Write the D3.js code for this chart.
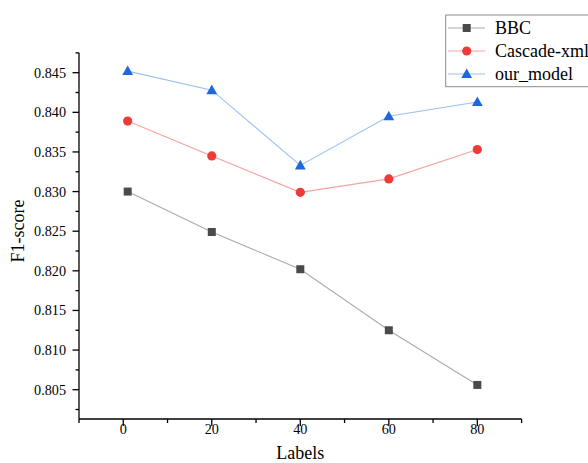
<!DOCTYPE html>
<html><head><meta charset="utf-8">
<script src="https://cdn.jsdelivr.net/npm/d3@7"></script>
<style>html,body{margin:0;padding:0;background:#fff;overflow:hidden} text{font-family:'Liberation Serif','Times New Roman',serif}</style>
</head><body>
<svg id="chart" width="588" height="463"></svg>
<script>
const labels = [1, 20, 40, 60, 80];
const bbc = [0.8300, 0.8249, 0.8202, 0.8125, 0.8056];
const cascade = [0.8389, 0.8345, 0.8299, 0.8316, 0.8353];
const ourModel = [0.8452, 0.8428, 0.8333, 0.8395, 0.8413];
const seriesNames = ["BBC", "Cascade-xml", "our_model"];
const xTicks = [0, 20, 40, 60, 80];
const yTicks = [0.805, 0.810, 0.815, 0.820, 0.825, 0.830, 0.835, 0.840, 0.845];

const svg = d3.select("#chart");
const font = "'Liberation Serif','Times New Roman',serif";
const x = d3.scaleLinear().domain([-10, 90]).range([79, 521.6]);
const y = d3.scaleLinear().domain([0.805, 0.845]).range([389.7, 72.7]);
const yTop = 52.7, yBot = 419;

const series = [
  {name: seriesNames[0], values: bbc, line: "#ababab", fill: "#4a4a4a", shape: "square"},
  {name: seriesNames[1], values: cascade, line: "#f7a3a3", fill: "#ef3a3a", shape: "circle"},
  {name: seriesNames[2], values: ourModel, line: "#9dc0f0", fill: "#1d68dc", shape: "triangle"}
];

function marker(g, shape, fill) {
  if (shape === "square") {
    g.append("rect").attr("x", -4).attr("y", -4).attr("width", 8).attr("height", 8).attr("fill", fill);
  } else if (shape === "circle") {
    g.append("circle").attr("r", 4.6).attr("fill", fill);
  } else {
    g.append("path").attr("d", "M0,-5.6L5.4,4L-5.4,4Z").attr("fill", fill);
  }
}

// lines and markers
const lineGen = d3.line().x((d, i) => x(labels[i])).y(d => y(d));
series.forEach(s => {
  svg.append("path").datum(s.values).attr("d", lineGen)
    .attr("fill", "none").attr("stroke", s.line).attr("stroke-width", 1.1);
  s.values.forEach((v, i) => {
    const g = svg.append("g").attr("transform", `translate(${x(labels[i])},${y(v)})`);
    marker(g, s.shape, s.fill);
  });
});

// axes
const ax = svg.append("g").attr("stroke", "#000").attr("stroke-width", 1.3);
ax.append("line").attr("x1", x(-10)).attr("x2", x(-10)).attr("y1", yTop).attr("y2", yBot);
ax.append("line").attr("x1", x(-10)).attr("x2", x(90)).attr("y1", yBot).attr("y2", yBot);

// y ticks
const yMinor = d3.range(0.8025, 0.8476, 0.005);
yTicks.forEach(t => ax.append("line").attr("x1", 79).attr("x2", 72.5).attr("y1", y(t)).attr("y2", y(t)));
yMinor.forEach(t => ax.append("line").attr("x1", 79).attr("x2", 75.5).attr("y1", y(t)).attr("y2", y(t)));
svg.append("g").selectAll("text").data(yTicks).join("text")
  .attr("x", 66).attr("y", d => y(d)).attr("dy", "0.35em").attr("text-anchor", "end")
  .attr("font-family", font).attr("font-size", 14.2).attr("fill", "#000")
  .text(d => d3.format(".3f")(d));

// x ticks
const xMinor = [-10, 10, 30, 50, 70, 90];
xTicks.forEach(t => ax.append("line").attr("x1", x(t)).attr("x2", x(t)).attr("y1", yBot).attr("y2", yBot + 7));
xMinor.forEach(t => ax.append("line").attr("x1", x(t)).attr("x2", x(t)).attr("y1", yBot).attr("y2", yBot + 4));
svg.append("g").selectAll("text").data(xTicks).join("text")
  .attr("x", d => x(d)).attr("y", 434).attr("text-anchor", "middle")
  .attr("font-family", font).attr("font-size", 14.2).attr("fill", "#000")
  .text(d => d);

// axis titles
svg.append("text").attr("x", x(40)).attr("y", 459).attr("text-anchor", "middle")
  .attr("font-family", font).attr("font-size", 18).text("Labels");
svg.append("text").attr("transform", "translate(24,231) rotate(-90)").attr("text-anchor", "middle")
  .attr("font-family", font).attr("font-size", 18).text("F1-score");

// legend
const lg = svg.append("g");
lg.append("rect").attr("x", 445.7).attr("y", 15).attr("width", 160).attr("height", 71.7)
  .attr("fill", "#fff").attr("stroke", "#8c8c8c").attr("stroke-width", 1);
series.forEach((s, i) => {
  const yy = 28 + i * 23;
  lg.append("line").attr("x1", 448).attr("x2", 485).attr("y1", yy).attr("y2", yy)
    .attr("stroke", s.line).attr("stroke-width", 1.1);
  const g = lg.append("g").attr("transform", `translate(466.7,${yy})`);
  marker(g, s.shape, s.fill);
  lg.append("text").attr("x", 495).attr("y", yy).attr("dy", "0.33em")
    .attr("font-family", font).attr("font-size", 18).attr("fill", "#000").text(s.name);
});
</script>
</body></html>
